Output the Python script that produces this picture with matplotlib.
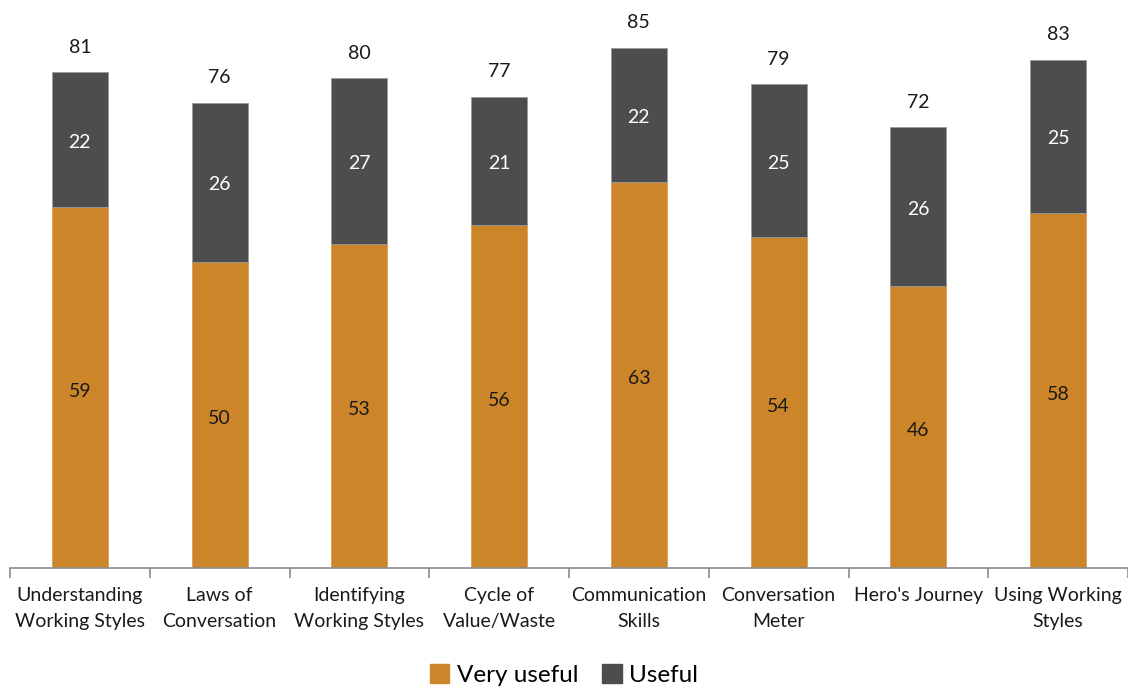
import matplotlib
matplotlib.use("Agg")
import matplotlib.pyplot as plt
from matplotlib.patches import Patch
import numpy as np

categories = ["Understanding\nWorking Styles", "Laws of\nConversation",
              "Identifying\nWorking Styles", "Cycle of\nValue/Waste",
              "Communication\nSkills", "Conversation\nMeter",
              "Hero's Journey", "Using Working\nStyles"]
very_useful = [59, 50, 53, 56, 63, 54, 46, 58]
useful = [22, 26, 27, 21, 22, 25, 26, 25]
totals = [81, 76, 80, 77, 85, 79, 72, 83]

ORANGE = "#CD852A"
GRAY = "#4D4D4D"

plt.rcParams["font.family"] = ["Lato", "DejaVu Sans"]

fig = plt.figure(figsize=(11.28, 6.88), dpi=100)
ax = fig.add_axes([10 / 1128, 120 / 688, 1118 / 1128, 568 / 688])

x = np.arange(len(categories))
w = 0.4
ax.bar(x, very_useful, w, color=ORANGE, edgecolor="#D9A060", linewidth=0.6)
ax.bar(x, useful, w, bottom=very_useful, color=GRAY, edgecolor="#9A9A9A", linewidth=0.6)

for i in range(len(x)):
    ax.text(x[i], very_useful[i] / 2 - 0.6, str(very_useful[i]), ha="center", va="center",
            fontsize=14, color="#1A1A1A")
    ax.text(x[i], very_useful[i] + useful[i] / 2 - 0.4, str(useful[i]), ha="center", va="center",
            fontsize=14, color="white")
    ax.text(x[i], totals[i] + 2.7, str(totals[i]), ha="center", va="bottom",
            fontsize=14, color="#1A1A1A")

ax.set_xlim(-0.5, len(x) - 0.5)
ax.set_ylim(0, 92.8)
ax.set_yticks([])
for s in ["top", "right", "left"]:
    ax.spines[s].set_visible(False)
ax.spines["bottom"].set_color("#8C8C8C")
ax.spines["bottom"].set_linewidth(1.2)

ax.set_xticks(x)
ax.set_xticklabels(categories, fontsize=14, color="#1A1A1A", linespacing=1.6)
ax.tick_params(axis="x", length=0, pad=14)
ax.set_xticks(np.arange(-0.5, len(x)), minor=True)
ax.tick_params(axis="x", which="minor", length=7, width=1.2, color="#8C8C8C")

handles = [Patch(color=ORANGE, label="Very useful"), Patch(color=GRAY, label="Useful")]
fig.legend(handles=handles, loc="center", bbox_to_anchor=(0.5, 13 / 688), ncol=2,
           frameon=False, fontsize=17.5, handlelength=0.8, handleheight=0.8,
           handletextpad=0.3, columnspacing=1.0)

fig.savefig("out.png", dpi=100)
